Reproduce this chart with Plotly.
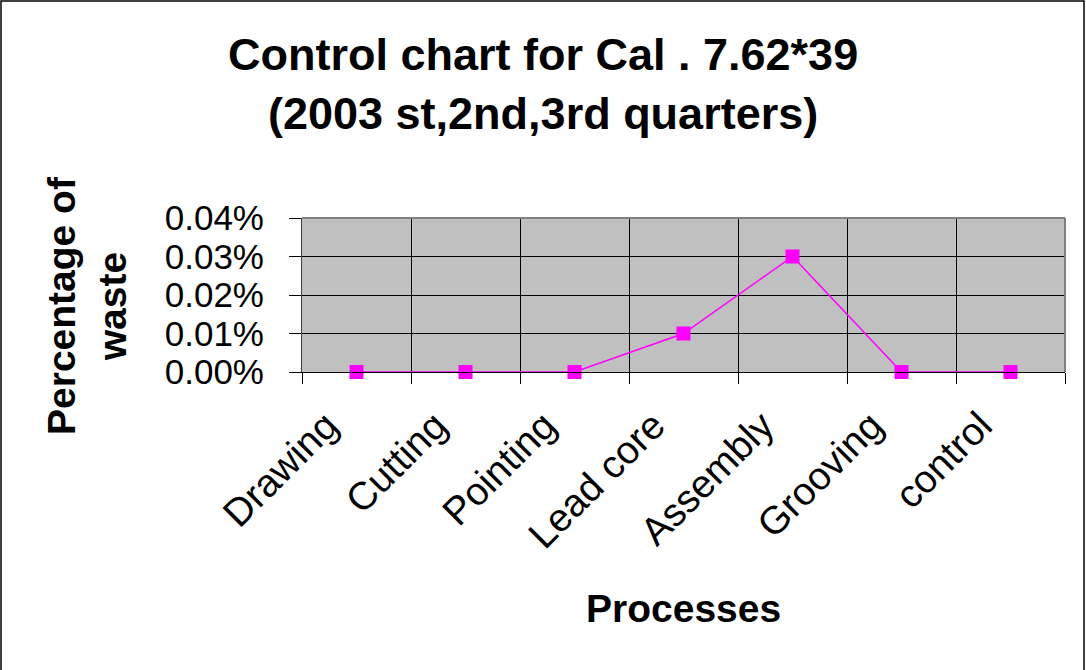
import plotly.graph_objects as go

categories = ["Drawing", "Cutting", "Pointing", "Lead core", "Assembly", "Grooving", "control"]
waste = [0.0, 0.0, 0.0, 0.0001, 0.0003, 0.0, 0.0]
y_ticks = [0.0, 0.0001, 0.0002, 0.0003, 0.0004]
y_tick_labels = ["0.00%", "0.01%", "0.02%", "0.03%", "0.04%"]

title_text = "Control chart for Cal . 7.62*39<br>(2003 st,2nd,3rd quarters)"
x_title = "Processes"
y_title = "Percentage of<br>waste"

W, H = 1086, 670
L, R, T, B = 302, 21, 218, 298
pw, ph = W - L - R, H - T - B

FONT = "Liberation Sans, Arial, sans-serif"

fig = go.Figure()
fig.add_trace(go.Scatter(
    x=categories, y=waste, mode="lines+markers",
    line=dict(color="#FF00FF", width=1.5),
    marker=dict(symbol="square", size=14, color="#FF00FF"),
    cliponaxis=False, showlegend=False,
))

fig.update_layout(
    width=W, height=H,
    margin=dict(l=L, r=R, t=T, b=B),
    paper_bgcolor="white", plot_bgcolor="#C0C0C0",
    font=dict(family=FONT, color="black"),
    xaxis=dict(
        type="category", range=[-0.5, 6.5], tickson="boundaries",
        showgrid=True, gridcolor="#000000", gridwidth=1,
        ticks="outside", ticklen=11, tickcolor="#000000",
        showline=True, linecolor="#000000", linewidth=1,
        tickangle=-45, tickfont=dict(size=39, family=FONT),
        ticklabelstandoff=14, ticklabelshift=-30,
    ),
    yaxis=dict(
        range=[0, 0.0004], tickvals=y_ticks, ticktext=y_tick_labels,
        showgrid=True, gridcolor="#000000", gridwidth=1,
        ticks="outside", ticklen=12, tickcolor="#000000",
        showline=True, linecolor="#404040", linewidth=1,
        tickfont=dict(size=35, family=FONT), zeroline=False,
        ticklabelstandoff=18,
    ),
    shapes=[
        dict(type="line", xref="paper", yref="paper", x0=0, x1=1, y0=1, y1=1,
             line=dict(color="#808080", width=2)),
        dict(type="line", xref="paper", yref="paper", x0=1, x1=1, y0=0, y1=1,
             line=dict(color="#808080", width=2)),
        dict(type="rect", xref="paper", yref="paper",
             x0=(1 - L) / pw, x1=(1084 - L) / pw, y0=(B - 675) / ph, y1=(H - 1 - B) / ph,
             line=dict(color="#000000", width=1.5), layer="below"),
    ],
    annotations=[
        dict(text="<b>" + title_text.replace("<br>", "</b><br><b>") + "</b>",
             xref="paper", yref="paper", x=(543 - L) / pw, y=(H - 84 - B) / ph,
             xanchor="center", yanchor="middle", showarrow=False,
             font=dict(size=45, family=FONT)),
        dict(text="<b>" + x_title + "</b>", xref="paper", yref="paper",
             x=0.5, y=(H - 608 - B) / ph, xanchor="center", yanchor="middle",
             showarrow=False, font=dict(size=39, family=FONT)),
        dict(text="<b>" + y_title.replace("<br>", "</b><br><b>") + "</b>",
             xref="paper", yref="paper", x=(87 - L) / pw, y=(H - 305 - B) / ph,
             xanchor="center", yanchor="middle", textangle=-90,
             showarrow=False, font=dict(size=39, family=FONT)),
    ],
)

fig.write_html("out.html", config={"displayModeBar": False},
               post_script="document.body.style.margin='0';")
